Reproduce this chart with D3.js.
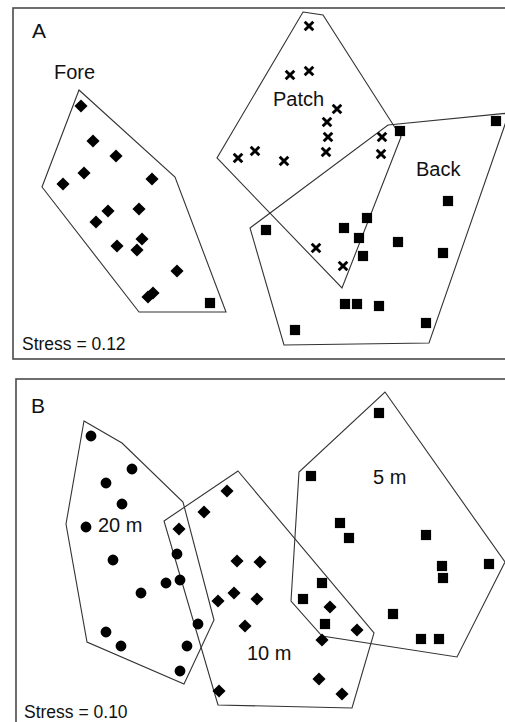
<!DOCTYPE html>
<html>
<head>
<meta charset="utf-8">
<script src="https://cdn.jsdelivr.net/npm/d3@7"></script>
<style>
  html, body { margin: 0; padding: 0; background: #fff; }
  svg { display: block; }
  text { font-family: "Liberation Sans", Arial, Helvetica, sans-serif; fill: #111; }
</style>
</head>
<body>
<script>
// nMDS ordinations: (A) habitat zones, (B) distance classes.
// Ordination scores are [axis1, axis2].

// ---- Panel A ----
const foreScores = [
  [-1.79, 0.74], [-1.67, 0.39], [-1.44, 0.24], [-1.76, 0.07], [-1.97, -0.04],
  [-1.08, 0.01], [-1.52, -0.31], [-1.21, -0.29], [-1.64, -0.42], [-1.43, -0.66],
  [-1.18, -0.59], [-1.23, -0.70], [-0.83, -0.91], [-1.07, -1.13], [-1.12, -1.17]
];
const foreSquare = [[-0.50, -1.23]];
const patchScores = [
  [0.49, 1.54], [0.30, 1.05], [0.49, 1.09], [0.77, 0.71], [0.67, 0.58],
  [0.68, 0.43], [0.66, 0.28], [-0.22, 0.22], [-0.05, 0.29], [0.24, 0.19],
  [1.22, 0.43], [1.21, 0.26], [0.56, -0.68], [0.83, -0.86]
];
const backScores = [
  [1.40, 0.49], [2.36, 0.59], [1.88, -0.21], [1.07, -0.38], [0.84, -0.48],
  [0.99, -0.58], [1.38, -0.62], [0.06, -0.50], [1.83, -0.73], [1.03, -0.76],
  [0.85, -1.24], [0.97, -1.24], [1.19, -1.26], [1.66, -1.43], [0.35, -1.50]
];
const foreOutline  = [[-1.81, 0.90], [-0.85, 0.03], [-0.34, -1.32], [-1.21, -1.32], [-2.18, -0.07]];
const patchOutline = [[0.43, 1.68], [0.63, 1.65], [1.41, 0.43], [0.82, -1.08], [-0.43, 0.22]];
const backOutline  = [[1.28, 0.55], [2.49, 0.67], [1.69, -1.63], [0.24, -1.65], [-0.10, -0.48]];
const groupLabelsA = [
  { text: "Fore",  at: [-2.06, 1.01] },
  { text: "Patch", at: [0.13, 0.74] },
  { text: "Back",  at: [1.56, 0.04] }
];
const stressA = "Stress = 0.12";

// ---- Panel B ----
const m20Scores = [
  [-1.69, 1.24], [-1.28, 0.91], [-1.54, 0.77], [-1.38, 0.56], [-1.74, 0.33],
  [-1.47, 0.00], [-0.83, 0.06], [-0.94, -0.23], [-0.80, -0.20], [-1.19, -0.33],
  [-0.62, -0.64], [-1.54, -0.72], [-1.39, -0.86], [-0.73, -0.86], [-0.80, -1.11]
];
const m10Scores = [
  [-0.33, 0.69], [-0.56, 0.48], [-0.81, 0.31], [-0.23, -0.01], [0.00, -0.02],
  [-0.42, -0.41], [-0.26, -0.33], [-0.03, -0.39], [-0.15, -0.66], [-0.41, -1.31],
  [0.70, -0.47], [0.97, -0.70], [0.62, -0.80], [0.59, -1.19], [0.82, -1.34]
];
const m5Scores = [
  [1.19, 1.47], [0.51, 0.84], [0.80, 0.37], [0.89, 0.22], [1.66, 0.25],
  [1.82, -0.06], [1.83, -0.18], [2.29, -0.04], [0.62, -0.23], [0.43, -0.39],
  [0.65, -0.64], [1.33, -0.54], [1.61, -0.79], [1.79, -0.79]
];
const m20Outline = [[-1.76, 1.39], [-1.38, 1.17], [-0.77, 0.58], [-0.46, -0.60], [-0.76, -1.24], [-1.73, -0.82], [-1.94, 0.36]];
const m10Outline = [[-0.22, 0.89], [1.14, -0.73], [0.92, -1.48], [-0.42, -1.45], [-0.96, 0.39]];
const m5Outline  = [[1.25, 1.68], [2.45, -0.02], [1.97, -0.97], [0.62, -0.76], [0.31, -0.41], [0.39, 0.88]];
const groupLabelsB = [
  { text: "20 m", at: [-1.62, 0.28] },
  { text: "5 m",  at: [1.13, 0.76] },
  { text: "10 m", at: [-0.13, -1.00] }
];
const stressB = "Stress = 0.10";

const W = 505, H = 722;
const svg = d3.select("body").append("svg").attr("width", W).attr("height", H);

const symbolGen = {
  square:  d3.symbol().type(d3.symbolSquare).size(104),
  diamond: d3.symbol().type(d3.symbolSquare).size(86),
  circle:  d3.symbol().type(d3.symbolCircle).size(92),
  cross:   d3.symbol().type(d3.symbolTimes).size(50)
};

function drawPanel(cfg) {
  const g = svg.append("g");
  const x = d3.scaleLinear().domain([-2, 2]).range([60, 460]);
  const y = d3.scaleLinear().domain([-1.5, 1.5]).range([cfg.yCenter + 150, cfg.yCenter - 150]);

  // frame
  g.append("rect")
    .attr("x", cfg.frame[0]).attr("y", cfg.frame[1])
    .attr("width", cfg.frame[2]).attr("height", cfg.frame[3])
    .attr("fill", "none").attr("stroke", "#4a4a4a").attr("stroke-width", 1.6);

  const line = d3.line().x(d => x(d[0])).y(d => y(d[1])).curve(d3.curveLinearClosed);
  g.selectAll("path.outline").data(cfg.outlines).join("path")
    .attr("class", "outline")
    .attr("d", line)
    .attr("fill", "none").attr("stroke", "#333").attr("stroke-width", 1.1);

  cfg.groups.forEach(grp => {
    g.selectAll(null).data(grp.scores).join("path")
      .attr("d", symbolGen[grp.symbol])
      .attr("transform", d => `translate(${x(d[0])},${y(d[1])})` + (grp.symbol === "diamond" ? " rotate(45)" : ""))
      .attr("fill", grp.symbol === "cross" ? "none" : "#000")
      .attr("stroke", grp.symbol === "cross" ? "#000" : "none")
      .attr("stroke-width", grp.symbol === "cross" ? 2.9 : 0);
  });

  g.selectAll("text.grp").data(cfg.labels).join("text")
    .attr("class", "grp")
    .attr("x", d => x(d.at[0])).attr("y", d => y(d.at[1]))
    .attr("font-size", 20)
    .text(d => d.text);

  g.append("text").attr("x", cfg.letterPos[0]).attr("y", cfg.letterPos[1])
    .attr("font-size", 21).text(cfg.letter);

  g.append("text").attr("x", cfg.stressPos[0]).attr("y", cfg.stressPos[1])
    .attr("font-size", 17.5).text(cfg.stress);
}

drawPanel({
  yCenter: 180,
  frame: [13, 8, 510, 351],
  outlines: [foreOutline, patchOutline, backOutline],
  groups: [
    { scores: foreScores, symbol: "diamond" },
    { scores: foreSquare, symbol: "square" },
    { scores: patchScores, symbol: "cross" },
    { scores: backScores, symbol: "square" }
  ],
  labels: groupLabelsA,
  letter: "A", letterPos: [32, 38],
  stress: stressA, stressPos: [22, 350]
});

drawPanel({
  yCenter: 560,
  frame: [16, 379, 510, 360],
  outlines: [m20Outline, m10Outline, m5Outline],
  groups: [
    { scores: m20Scores, symbol: "circle" },
    { scores: m10Scores, symbol: "diamond" },
    { scores: m5Scores, symbol: "square" }
  ],
  labels: groupLabelsB,
  letter: "B", letterPos: [31, 413],
  stress: stressB, stressPos: [24, 718]
});
</script>
</body>
</html>
